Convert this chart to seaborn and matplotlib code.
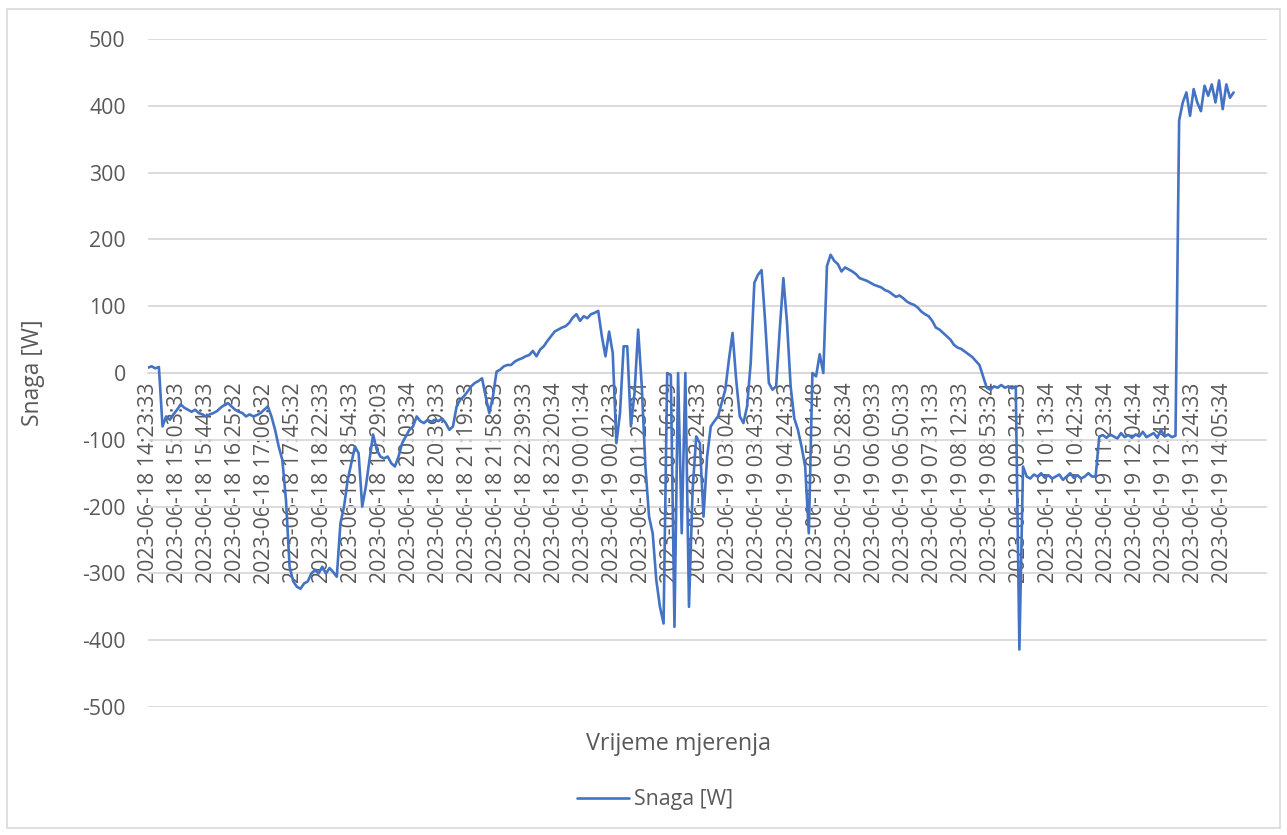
import matplotlib
matplotlib.use("Agg")
import matplotlib.pyplot as plt
import seaborn as sns
import numpy as np
import pandas as pd
from matplotlib.patches import Rectangle

# ---- data ----
snaga_w = [
    8, 10, 7, 9, -80, -65, -70, -62, -55, -47,
    -52, -55, -58, -55, -60, -62, -65, -62, -60, -57,
    -52, -48, -45, -50, -55, -58, -60, -65, -62, -65,
    -63, -60, -55, -50, -65, -85, -110, -130, -190, -290,
    -312, -320, -323, -315, -312, -300, -295, -300, -290, -300,
    -292, -298, -305, -225, -200, -160, -135, -110, -120, -200,
    -170, -130, -92, -115, -125, -128, -125, -135, -140, -125,
    -105, -95, -85, -80, -65, -72, -75, -70, -73, -70,
    -72, -68, -75, -85, -80, -50, -40, -35, -28, -20,
    -15, -12, -8, -35, -60, -35, 2, 5, 10, 12,
    12, 17, 20, 22, 25, 27, 33, 25, 35, 40,
    48, 55, 62, 65, 68, 70, 75, 83, 88, 78,
    85, 82, 88, 90, 93, 55, 25, 62, 30, -105,
    -60, 40, 40, -80, -30, 65, -20, -140, -215, -240,
    -310, -350, -375, 0, -3, -380, 0, -240, 0, -350,
    -175, -95, -105, -215, -125, -80, -72, -65, -45, -25,
    20, 60, -10, -65, -75, -50, 15, 135, 147, 154,
    75, -15, -25, -20, 65, 142, 75, -20, -68, -85,
    -110, -140, -240, 0, -5, 28, 0, 160, 177, 168,
    163, 152, 158, 155, 152, 148, 142, 140, 138, 135,
    132, 130, 128, 124, 122, 118, 114, 116, 112, 107,
    104, 102, 98, 92, 88, 85, 78, 68, 65, 60,
    55, 50, 42, 38, 36, 32, 28, 24, 18, 12,
    -5, -22, -25, -20, -22, -18, -22, -20, -23, -20,
    -414, -140, -155, -158, -152, -155, -150, -157, -153, -158,
    -155, -152, -160, -155, -150, -157, -153, -158, -155, -150,
    -155, -155, -95, -93, -97, -92, -95, -98, -90, -96,
    -93, -97, -92, -95, -88, -96, -93, -90, -97, -85,
    -95, -92, -96, -94, 378, 405, 420, 385, 425, 405,
    392, 430, 415, 432, 405, 438, 395, 432, 412, 420,
]

tick_labels = [
    "2023-06-18 14:23:33", "2023-06-18 15:03:33", "2023-06-18 15:44:33",
    "2023-06-18 16:25:32", "2023-06-18 17:06:32", "2023-06-18 17:45:32",
    "2023-06-18 18:22:33", "2023-06-18 18:54:33", "2023-06-18 19:29:03",
    "2023-06-18 20:03:34", "2023-06-18 20:39:33", "2023-06-18 21:19:33",
    "2023-06-18 21:58:33", "2023-06-18 22:39:33", "2023-06-18 23:20:34",
    "2023-06-19 00:01:34", "2023-06-19 00:42:33", "2023-06-19 01:23:34",
    "2023-06-19 01:56:29", "2023-06-19 02:24:33", "2023-06-19 03:04:33",
    "2023-06-19 03:43:33", "2023-06-19 04:24:33", "2023-06-19 05:01:48",
    "2023-06-19 05:28:34", "2023-06-19 06:09:33", "2023-06-19 06:50:33",
    "2023-06-19 07:31:33", "2023-06-19 08:12:33", "2023-06-19 08:53:34",
    "2023-06-19 09:34:33", "2023-06-19 10:13:34", "2023-06-19 10:42:34",
    "2023-06-19 11:23:34", "2023-06-19 12:04:34", "2023-06-19 12:45:34",
    "2023-06-19 13:24:33", "2023-06-19 14:05:34",
]
label_step = 8          # one label every 8 measurements
n_categories = 309      # category slots on the axis
y_ticks = [-500, -400, -300, -200, -100, 0, 100, 200, 300, 400, 500]

series_name = "Snaga [W]"
x_title = "Vrijeme mjerenja"

# ---- style ----
sns.set_style("white")
plt.rcParams["font.family"] = ["Open Sans", "DejaVu Sans"]
TXT = "#595959"
GRID = "#D9D9D9"
LINE = "#4472C4"

W, H = 1287, 835
fig = plt.figure(figsize=(W / 100, H / 100), dpi=100)
ax = fig.add_axes([148 / W, 1 - 707 / H, (1267 - 148) / W, (707 - 39) / H])

df = pd.DataFrame({"idx": np.arange(len(snaga_w)), "val": snaga_w})
sns.lineplot(data=df, x="idx", y="val", ax=ax, color=LINE, linewidth=1.9,
             label=series_name, zorder=3)

for s in ["top", "right", "left"]:
    ax.spines[s].set_visible(False)
ax.spines["bottom"].set_position(("data", 0))
ax.spines["bottom"].set_color(GRID)
ax.spines["bottom"].set_linewidth(1.3)

ax.set_xlim(0, n_categories - 0.8)
ax.set_ylim(-500, 500)
ax.set_yticks(y_ticks)
ax.set_yticklabels([str(v) for v in y_ticks])
ax.set_xticks(np.arange(len(tick_labels)) * label_step)
ax.set_xticklabels(tick_labels)

ax.grid(axis="y", color=GRID, linewidth=1.3, zorder=0)
ax.grid(axis="x", visible=False)
ax.tick_params(axis="x", length=0, pad=7, labelsize=15.3, labelcolor=TXT,
               labelrotation=90)
ax.tick_params(axis="y", length=0, pad=16, labelsize=15.3, labelcolor=TXT)
ax.set_xlabel("")
ax.set_ylabel("")

fig.text(33 / W, 1 - 373 / H, series_name, rotation=90, ha="center",
         va="center", fontsize=16.5, color=TXT)
fig.text(679 / W, 1 - 744 / H, x_title, ha="center", va="center",
         fontsize=16.8, color=TXT)

handles, labels = ax.get_legend_handles_labels()
ax.get_legend().remove()
leg = fig.legend(handles, labels, loc="center",
                 bbox_to_anchor=(655 / W, 1 - 800 / H), frameon=False,
                 fontsize=15.3, handlelength=2.45, handletextpad=0.25,
                 labelcolor=TXT)
for h in leg.get_lines():
    h.set_linewidth(1.9)

fig.patches.append(Rectangle((7 / W, 1 - 828 / H), (1280 - 7) / W,
                             (828 - 9) / H, transform=fig.transFigure,
                             fill=False, edgecolor=GRID, linewidth=1.2))

fig.savefig("out.png", dpi=100)
